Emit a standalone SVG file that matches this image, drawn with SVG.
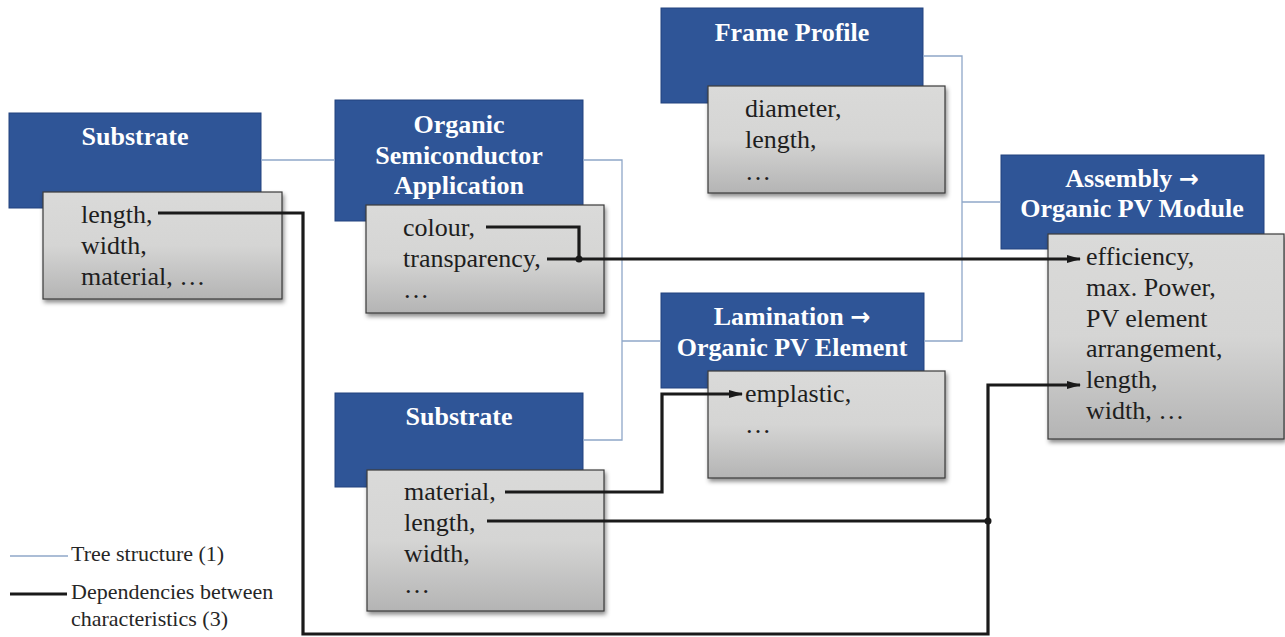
<svg xmlns="http://www.w3.org/2000/svg" width="1285" height="637" viewBox="0 0 1285 637">
  <style>
    .head { fill: #2f5597; stroke: #22437f; stroke-width: 1; }
    .attr { fill: url(#grey); stroke: #3a3a3a; stroke-width: 1.2; filter: url(#shadow); }
    .ht { font-family: "Liberation Serif", "Times New Roman", serif; font-weight: bold; font-size: 26px; fill: #ffffff; text-anchor: middle; }
    .sym { font-family: "DejaVu Sans", sans-serif; font-weight: bold; font-size: 24px; }
    .at { font-family: "Liberation Serif", "Times New Roman", serif; font-size: 26px; fill: #1e1e1e; }
    .lg { font-family: "Liberation Serif", "Times New Roman", serif; font-size: 22px; fill: #262626; }
    .tree { fill: none; stroke: #8fa7c8; stroke-width: 1.3; }
    .dep { fill: none; stroke: #1a1a1a; stroke-width: 3.2; }
    .arr { fill: none; stroke: #1a1a1a; stroke-width: 3.2; marker-end: url(#tip); }
  </style>
  <defs>
    <linearGradient id="grey" x1="0" y1="0" x2="0" y2="1">
      <stop offset="0" stop-color="#dadad9"/>
      <stop offset="0.5" stop-color="#d5d5d4"/>
      <stop offset="1" stop-color="#b4b4b4"/>
    </linearGradient>
    <filter id="shadow" x="-10%" y="-10%" width="125%" height="130%">
      <feDropShadow dx="1.5" dy="3" stdDeviation="2" flood-color="#000" flood-opacity="0.45"/>
    </filter>
    <marker id="tip" viewBox="0 0 14 8" refX="13" refY="4" markerWidth="14" markerHeight="8" markerUnits="userSpaceOnUse" orient="auto">
      <path d="M0,0 L14,4 L0,8 Z" fill="#1a1a1a"/>
    </marker>
  </defs>

  <rect width="1285" height="637" fill="#ffffff"/>

  <!-- substrate of the top branch -->
  <g id="substrate-top">
    <rect class="head" x="9" y="113" width="252" height="95"/>
    <text class="ht" x="135" y="145">Substrate</text>
    <rect class="attr" x="43" y="192" width="239" height="107"/>
    <text class="at" x="81" y="223">length,</text>
    <text class="at" x="81" y="254">width,</text>
    <text class="at" x="81" y="285">material, …</text>
  </g>

  <!-- organic semiconductor application -->
  <g id="osc-application">
    <rect class="head" x="335" y="100" width="248" height="121"/>
    <text class="ht" x="459" y="133">Organic</text>
    <text class="ht" x="459" y="164">Semiconductor</text>
    <text class="ht" x="459" y="194">Application</text>
    <rect class="attr" x="366" y="205" width="238" height="108"/>
    <text class="at" x="403" y="236">colour,</text>
    <text class="at" x="403" y="267">transparency,</text>
    <text class="at" x="403" y="298">…</text>
  </g>

  <!-- substrate of the lower branch -->
  <g id="substrate-bottom">
    <rect class="head" x="335" y="393" width="248" height="94"/>
    <text class="ht" x="459" y="425">Substrate</text>
    <rect class="attr" x="367" y="470" width="237" height="141"/>
    <text class="at" x="404" y="500">material,</text>
    <text class="at" x="404" y="531">length,</text>
    <text class="at" x="404" y="562">width,</text>
    <text class="at" x="404" y="593">…</text>
  </g>

  <!-- frame profile -->
  <g id="frame-profile">
    <rect class="head" x="661" y="8" width="262" height="95"/>
    <text class="ht" x="792" y="41">Frame Profile</text>
    <rect class="attr" x="708" y="86" width="237" height="107"/>
    <text class="at" x="745" y="117">diameter,</text>
    <text class="at" x="745" y="148">length,</text>
    <text class="at" x="745" y="180">…</text>
  </g>

  <!-- lamination -->
  <g id="lamination">
    <rect class="head" x="661" y="293" width="263" height="95"/>
    <text class="ht" x="792" y="325">Lamination <tspan class="sym">→</tspan></text>
    <text class="ht" x="792" y="356">Organic PV Element</text>
    <rect class="attr" x="708" y="371" width="237" height="107"/>
    <text class="at" x="745" y="402">emplastic,</text>
    <text class="at" x="745" y="433">…</text>
  </g>

  <!-- assembly -->
  <g id="assembly">
    <rect class="head" x="1001" y="155" width="263" height="94"/>
    <text class="ht" x="1132" y="187">Assembly <tspan class="sym">→</tspan></text>
    <text class="ht" x="1132" y="217">Organic PV Module</text>
    <rect class="attr" x="1048" y="234" width="236" height="205"/>
    <text class="at" x="1086" y="265">efficiency,</text>
    <text class="at" x="1086" y="296">max. Power,</text>
    <text class="at" x="1086" y="327">PV element</text>
    <text class="at" x="1086" y="357">arrangement,</text>
    <text class="at" x="1086" y="388">length,</text>
    <text class="at" x="1086" y="419">width, …</text>
  </g>

  <g id="connectors">
    <!-- tree structure -->
    <path class="tree" d="M261,160 H335"/>
    <path class="tree" d="M583,160 H622 V440 H583"/>
    <path class="tree" d="M622,341 H661"/>
    <path class="tree" d="M923,56 H962 V341 H924"/>
    <path class="tree" d="M962,202 H1001"/>
    <!-- dependencies -->
    <path class="dep" d="M486,227 H579 V259"/>
    <path class="arr" d="M547,259 H1080"/>
    <circle cx="579" cy="259" r="3.5" fill="#1a1a1a"/>
    <path class="arr" d="M158,213 H303 V634 H988 V385 H1080"/>
    <path class="dep" d="M487,521 H988"/>
    <circle cx="988" cy="521" r="3.5" fill="#1a1a1a"/>
    <path class="arr" d="M505,492 H662 V394 H742"/>
  </g>

  <g id="legend">
    <path class="tree" d="M10,556 H68"/>
    <text class="lg" x="71" y="561">Tree structure (1)</text>
    <path class="dep" d="M10,594 H67"/>
    <text class="lg" x="71" y="599">Dependencies between</text>
    <text class="lg" x="71" y="626">characteristics (3)</text>
  </g>
</svg>
